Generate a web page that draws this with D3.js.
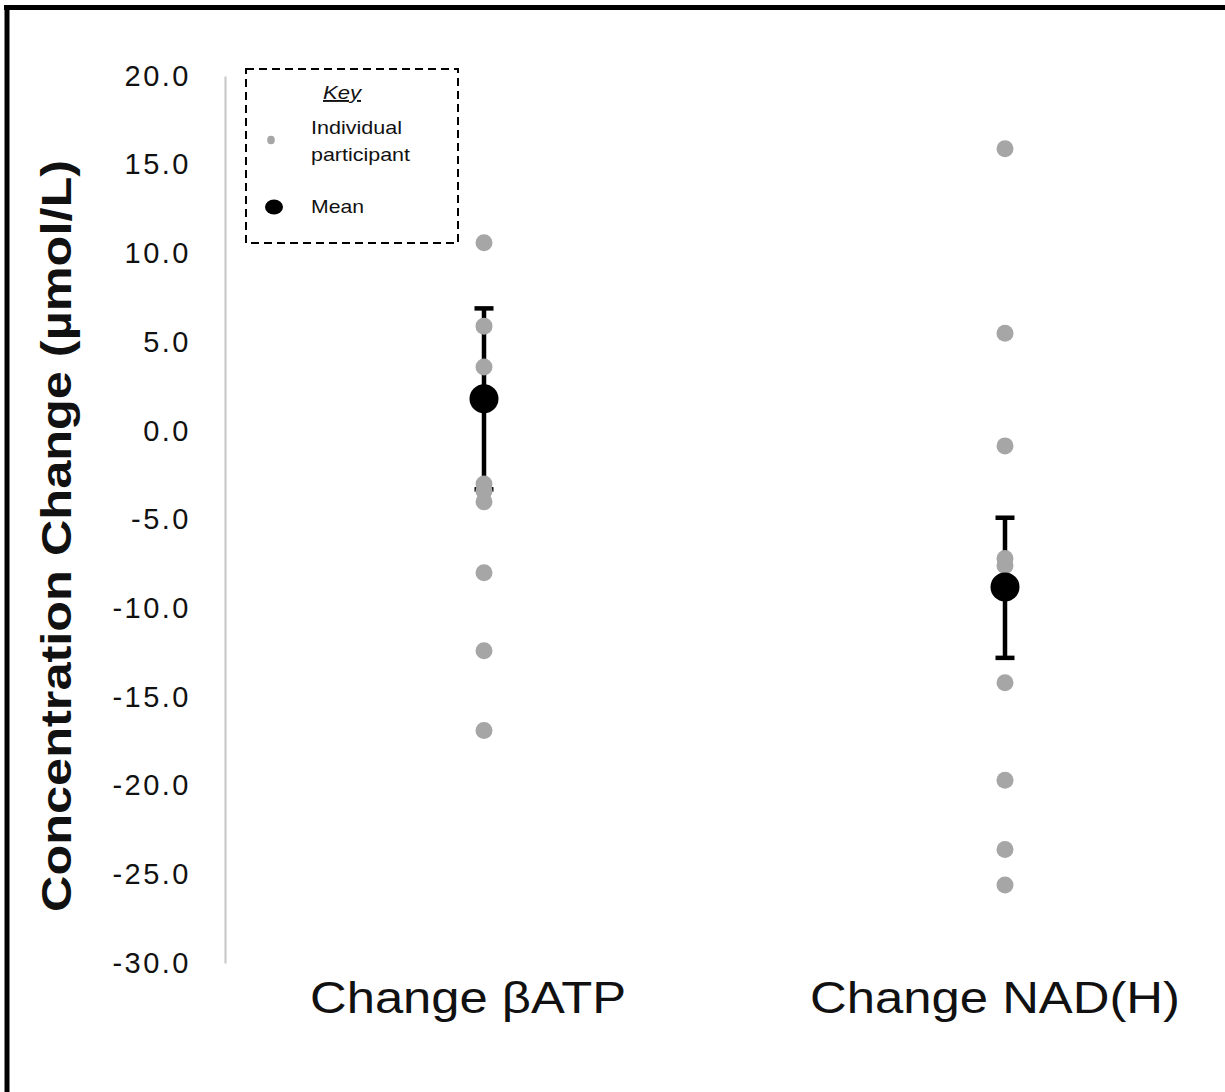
<!DOCTYPE html>
<html>
<head>
<meta charset="utf-8">
<script src="https://cdn.jsdelivr.net/npm/d3@7"></script>
<style>
  html, body { margin: 0; padding: 0; background: #fff; }
  svg { display: block; }
  text { font-family: "Liberation Sans", Arial, Helvetica, sans-serif; }
</style>
</head>
<body>
<div id="chart"></div>
<script>
// ---- data ----
const categories = ["Change βATP", "Change NAD(H)"];
const atpValues = [10.6, 5.9, 3.6, -3.0, -3.4, -4.0, -8.0, -12.4, -16.9];
const nadValues = [15.9, 5.5, -0.85, -7.2, -7.6, -14.2, -19.7, -23.6, -25.6];
const meanValues = [1.8, -8.8];
const errHigh = [6.9, -4.9];
const errLow = [-3.3, -12.8];
const tickValues = [20, 15, 10, 5, 0, -5, -10, -15, -20, -25, -30];
const yTitle = "Concentration Change (µmol/L)";
const legendKey = "Key";
const legendItems = ["Individual|participant", "Mean"];

// ---- layout ----
const W = 1225, H = 1092;
const svg = d3.select("#chart").append("svg").attr("width", W).attr("height", H);

// frame (top and left edges only, as in the reference)
svg.append("line").attr("x1", 4).attr("x2", W).attr("y1", 7.5).attr("y2", 7.5)
  .attr("stroke", "#000").attr("stroke-width", 5);
svg.append("line").attr("x1", 7).attr("x2", 7).attr("y1", 5).attr("y2", H)
  .attr("stroke", "#000").attr("stroke-width", 5);

const y = d3.scaleLinear().domain([-30, 20]).range([963, 76]);
const x = d3.scalePoint().domain(categories).range([484, 1005]);
const axisX = 225;

// y axis
const yAxis = svg.append("g").attr("transform", `translate(${axisX},0)`)
  .call(d3.axisLeft(y).tickValues(tickValues).tickFormat(d => d.toFixed(1))
    .tickSize(0).tickPadding(34));
yAxis.select(".domain").attr("stroke", "#c6c6c6").attr("stroke-width", 2);
yAxis.selectAll(".tick text")
  .attr("font-size", 29).attr("fill", "#111")
  .attr("letter-spacing", "2.5px")
  .attr("font-family", "'Liberation Sans', Arial, sans-serif");

// y title
svg.append("text")
  .attr("transform", `translate(71,536) rotate(-90)`)
  .attr("text-anchor", "middle")
  .attr("font-size", 42).attr("font-weight", "bold").attr("fill", "#111")
  .attr("textLength", 752).attr("lengthAdjust", "spacingAndGlyphs")
  .text(yTitle);

// x category labels
const labelShift = [-16, -10];
svg.selectAll(".xlab").data(categories).join("text")
  .attr("class", "xlab")
  .attr("x", (d, i) => x(d) + labelShift[i]).attr("y", 1013)
  .attr("text-anchor", "middle")
  .attr("font-size", 44).attr("fill", "#111")
  .attr("textLength", (d, i) => i === 0 ? 316 : 370)
  .attr("lengthAdjust", "spacingAndGlyphs")
  .text(d => d);

// error bars
const eb = svg.append("g");
categories.forEach((c, i) => {
  const cx = x(c);
  eb.append("line").attr("x1", cx).attr("x2", cx)
    .attr("y1", y(errHigh[i])).attr("y2", y(errLow[i]))
    .attr("stroke", "#000").attr("stroke-width", 4.5);
  [errHigh[i], errLow[i]].forEach(v => {
    eb.append("line").attr("x1", cx - 9.5).attr("x2", cx + 9.5)
      .attr("y1", y(v)).attr("y2", y(v))
      .attr("stroke", "#000").attr("stroke-width", 4.5);
  });
});

// individual points
const series = [atpValues, nadValues];
series.forEach((vals, i) => {
  svg.append("g").selectAll("circle").data(vals).join("circle")
    .attr("cx", x(categories[i])).attr("cy", d => y(d))
    .attr("r", 8.5).attr("fill", "#a6a6a6");
});

// means
svg.append("g").selectAll("circle").data(meanValues).join("circle")
  .attr("cx", (d, i) => x(categories[i])).attr("cy", d => y(d))
  .attr("r", 14.5).attr("fill", "#000");

// legend
const lg = svg.append("g");
lg.append("rect").attr("x", 246).attr("y", 69).attr("width", 212).attr("height", 174)
  .attr("fill", "#fff").attr("stroke", "#000").attr("stroke-width", 2)
  .attr("stroke-dasharray", "8,5");
lg.append("text").attr("x", 342).attr("y", 99).attr("text-anchor", "middle")
  .attr("font-size", 19).attr("font-style", "italic").attr("text-decoration", "underline")
  .attr("fill", "#111").attr("textLength", 38).attr("lengthAdjust", "spacingAndGlyphs")
  .text(legendKey);
lg.append("ellipse").attr("cx", 271).attr("cy", 140).attr("rx", 3.8).attr("ry", 4.2)
  .attr("fill", "#a6a6a6");
const partLines = legendItems[0].split("|");
const partLens = [91, 99];
partLines.forEach((t, k) => {
  lg.append("text").attr("x", 311).attr("y", 134 + k * 27)
    .attr("font-size", 19).attr("fill", "#111")
    .attr("textLength", partLens[k]).attr("lengthAdjust", "spacingAndGlyphs")
    .text(t);
});
lg.append("ellipse").attr("cx", 274).attr("cy", 207).attr("rx", 9).attr("ry", 7.5)
  .attr("fill", "#000");
lg.append("text").attr("x", 311).attr("y", 213).attr("font-size", 19).attr("fill", "#111")
  .attr("textLength", 53).attr("lengthAdjust", "spacingAndGlyphs")
  .text(legendItems[1]);
</script>
</body>
</html>
